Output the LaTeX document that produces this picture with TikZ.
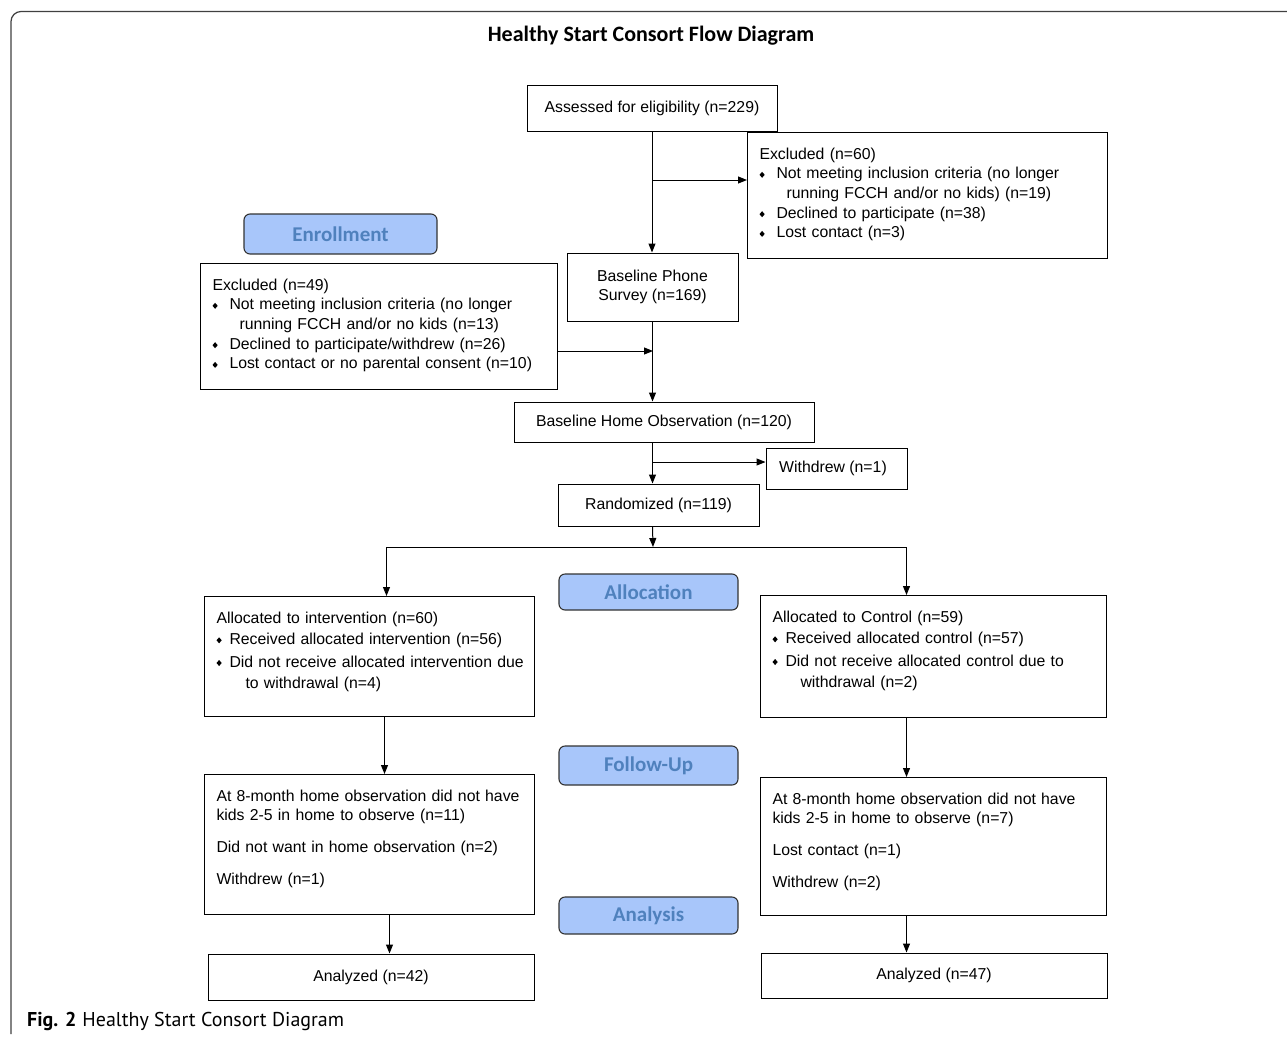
\documentclass[tikz,border=0pt]{standalone}
\usepackage{fontspec}
\setmainfont{Liberation Sans}
\newfontfamily\stagefont{Carlito}
\newfontfamily\capfont{PT Sans}
\usetikzlibrary{arrows.meta}

\definecolor{stagefill}{RGB}{168,198,250}
\definecolor{stagetext}{RGB}{79,129,189}
\definecolor{framegray}{RGB}{64,64,64}

% small diamond bullet, optional width of the bullet column
\newcommand{\dia}[1][17pt]{\makebox[#1][l]{\tikz[baseline=0pt]\fill (0pt,4pt) -- (2.6pt,7pt) -- (5.2pt,4pt) -- (2.6pt,1pt) -- cycle;}}

\begin{document}
\begin{tikzpicture}[x=1pt,y=-1pt,
    font=\fontsize{15.8}{19.7}\selectfont,
    box/.style={draw, line width=1pt, inner sep=0pt, align=center},
    txtbox/.style={draw, line width=1pt, anchor=north west, align=left,
      inner xsep=12pt, inner ysep=0pt, text height=26.6pt},
    stage/.style={draw=black!80, line width=1.1pt, fill=stagefill, rounded corners=6pt,
      inner sep=0pt, text=stagetext, font=\stagefont\bfseries\fontsize{21}{24}\selectfont},
    arr/.style={-{Triangle[length=9pt,width=7pt]}, line width=1pt}]
  \useasboundingbox (0,0) rectangle (1287,1039);

  % frame and title
  \draw[framegray, line width=1.2pt, rounded corners=10pt] (11,1034) -- (11,11.5) -- (1287,11.5);
  \node[font=\stagefont\bfseries\fontsize{22}{26}\selectfont] (title) at (651,36) {Healthy Start Consort Flow Diagram};

  % enrollment
  \node[box, minimum width=250pt, minimum height=46pt] (assess) at (652,108) {Assessed for eligibility (n=229)};
  \node[txtbox, text width=336pt, text depth=99.4pt] (excl1) at (747,132)
    {Excluded (n=60)\\
     \dia Not meeting inclusion criteria (no longer\\
     \hspace*{27pt}running FCCH and/or no kids) (n=19)\\
     \dia Declined to participate (n=38)\\
     \dia Lost contact (n=3)};
  \node[stage, minimum width=193pt, minimum height=40pt] (enrol) at (340.5,234) {Enrollment};
  \node[box, minimum width=171pt, minimum height=68pt] (phone) at (652.5,287) {Baseline Phone\\Survey (n=169)};
  \node[txtbox, text width=333pt, text depth=99.4pt] (excl2) at (200,263)
    {Excluded (n=49)\\
     \dia Not meeting inclusion criteria (no longer\\
     \hspace*{27pt}running FCCH and/or no kids (n=13)\\
     \dia Declined to participate/withdrew (n=26)\\
     \dia Lost contact or no parental consent (n=10)};
  \node[box, minimum width=300pt, minimum height=40pt] (home) at (664,422) {Baseline Home Observation (n=120)};
  \node[box, minimum width=141pt, minimum height=41pt] (wd) at (836.5,468.5) {\hspace*{-7pt}Withdrew (n=1)};
  \node[box, minimum width=201pt, minimum height=42pt] (rand) at (658.5,505) {Randomized (n=119)};

  % allocation
  \node[stage, minimum width=179pt, minimum height=36pt] (allocst) at (648.5,592) {Allocation};
  \node[txtbox, text width=306pt, text depth=93.4pt] (alloc1) at (204,596)
    {Allocated to intervention (n=60)\\[1.5pt]
     \dia[13pt]Received allocated intervention (n=56)\\[3pt]
     \mbox{\dia[13pt]Did not receive allocated intervention due}\\[1.5pt]
     \hspace*{29pt}to withdrawal (n=4)};
  \node[txtbox, text width=322pt, text depth=95.4pt] (alloc2) at (760,595)
    {Allocated to Control (n=59)\\[1.5pt]
     \dia[13pt]Received allocated control (n=57)\\[3pt]
     \dia[13pt]Did not receive allocated control due to\\[1.5pt]
     \hspace*{28pt}withdrawal (n=2)};

  % follow-up
  \node[stage, minimum width=179pt, minimum height=39pt] (follst) at (648.5,765.5) {Follow-Up};
  \node[txtbox, text width=306pt, text depth=113.4pt] (fol1) at (204,774)
    {At 8-month home observation did not have\\
     kids 2-5 in home to observe (n=11)\\[12.3pt]
     Did not want in home observation (n=2)\\[12.3pt]
     Withdrew (n=1)};
  \node[txtbox, text width=322pt, text depth=111.4pt] (fol2) at (760,777)
    {At 8-month home observation did not have\\
     kids 2-5 in home to observe (n=7)\\[12.3pt]
     Lost contact (n=1)\\[12.3pt]
     Withdrew (n=2)};

  % analysis
  \node[stage, minimum width=179pt, minimum height=37pt] (anast) at (648.5,915.5) {Analysis};
  \node[box, minimum width=326pt, minimum height=46pt] (ana1) at (371,977) {Analyzed (n=42)};
  \node[box, minimum width=346pt, minimum height=45pt] (ana2) at (934,975.5) {Analyzed (n=47)};

  \node[anchor=west, inner sep=0pt, font=\capfont\fontsize{20}{24}\selectfont] (caption) at (27,1021)
    {\textbf{Fig. 2}\hspace{6pt}Healthy Start Consort Diagram};

  % connectors
  \coordinate (j1) at (653,180);
  \coordinate (j2) at (653,351);
  \coordinate (j3) at (653,462);
  \coordinate (split) at (653,547);

  \draw[arr] (assess.south) -- (assess.south |- phone.north);
  \draw[arr] (j1) -- (j1 -| excl1.west);
  \draw[arr] (phone.south) -- (phone.south |- home.north);
  \draw[arr] (excl2.east |- j2) -- (j2);
  \draw[arr] (phone.south |- home.south) -- (phone.south |- rand.north);
  \draw[arr] (j3) -- (j3 -| wd.west);
  \draw[arr] (phone.south |- rand.south) -- (split);
  \draw[arr] (split) -| ([xshift=17pt]alloc1.north);
  \draw[arr] (split) -| ([xshift=-27pt]alloc2.north);
  \draw[arr] ([xshift=15pt]alloc1.south) -- ([xshift=15pt]fol1.north);
  \draw[arr] ([xshift=-27pt]alloc2.south) -- ([xshift=-27pt]fol2.north);
  \draw[arr] ([xshift=20pt]fol1.south) -- ([xshift=20pt]fol1.south |- ana1.north);
  \draw[arr] ([xshift=-27pt]fol2.south) -- ([xshift=-27pt]fol2.south |- ana2.north);
\end{tikzpicture}
\end{document}
